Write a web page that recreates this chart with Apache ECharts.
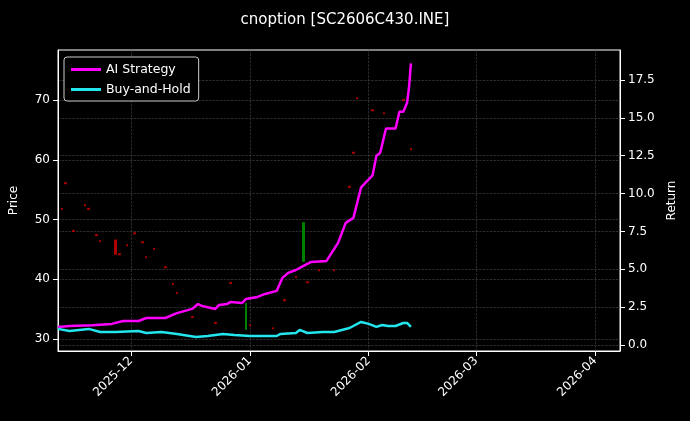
<!DOCTYPE html>
<html><head><meta charset="utf-8">
<script src="https://cdn.jsdelivr.net/npm/echarts@6/dist/echarts.min.js"></script>
<style>html,body{margin:0;background:#000}#c{width:690px;height:421px}</style>
</head><body><div id="c"></div>
<script>
const aiDates = ['2025-11-12','2025-11-15','2025-11-21','2025-11-26','2025-11-29','2025-12-03','2025-12-05','2025-12-10','2025-12-13','2025-12-17','2025-12-18 12:00','2025-12-19 12:00','2025-12-23','2025-12-24','2025-12-26','2025-12-27','2025-12-30','2025-12-31','2026-01-03','2026-01-05','2026-01-08','2026-01-09 12:00','2026-01-11','2026-01-13','2026-01-15','2026-01-17','2026-01-21','2026-01-24','2026-01-26','2026-01-28','2026-01-30','2026-02-02','2026-02-03','2026-02-04','2026-02-05 12:00','2026-02-08','2026-02-09','2026-02-10','2026-02-11','2026-02-11 12:00','2026-02-12'];
const aiValues = [1.19,1.25,1.3,1.39,1.58,1.58,1.78,1.78,2.1,2.38,2.7,2.58,2.38,2.64,2.7,2.84,2.77,3.04,3.17,3.37,3.57,4.43,4.76,4.95,5.22,5.48,5.55,6.74,8.06,8.39,10.4,11.2,12.5,12.7,14.3,14.3,15.4,15.4,16.0,17.0,18.6];
const bhDates = ['2025-11-12','2025-11-15','2025-11-20','2025-11-23','2025-11-27','2025-12-03','2025-12-05','2025-12-09','2025-12-13','2025-12-18','2025-12-21','2025-12-25','2025-12-28','2026-01-01','2026-01-08','2026-01-09','2026-01-13','2026-01-14','2026-01-16','2026-01-20','2026-01-23','2026-01-27','2026-01-30','2026-02-01','2026-02-03','2026-02-04 12:00','2026-02-06','2026-02-08','2026-02-10','2026-02-11','2026-02-12'];
const bhValues = [1.06,0.92,1.06,0.86,0.86,0.92,0.79,0.86,0.73,0.53,0.59,0.73,0.66,0.59,0.59,0.73,0.79,0.99,0.79,0.86,0.86,1.12,1.52,1.39,1.19,1.32,1.25,1.25,1.45,1.45,1.19];
// [date, open, close, low, high]
const candles = [
 ['2025-11-13',51.9,51.7,51.7,51.9],['2025-11-14',56.2,56.0,56.0,56.2],['2025-11-16',48.2,48.0,48.0,48.2],
 ['2025-11-19',52.5,52.3,52.3,52.5],['2025-11-20',51.9,51.7,51.7,51.9],['2025-11-22',47.5,47.3,47.3,47.5],
 ['2025-11-23',46.5,46.3,46.3,46.5],['2025-11-27',46.6,44.2,44.2,46.6],['2025-11-28',44.3,44.1,44.1,44.3],
 ['2025-11-30',45.8,45.6,45.6,45.8],['2025-12-02',47.8,47.6,47.6,47.8],['2025-12-04',46.3,46.1,46.1,46.3],
 ['2025-12-05',43.8,43.6,43.6,43.8],['2025-12-07',45.2,45.0,45.0,45.2],['2025-12-10',42.1,41.9,41.9,42.1],
 ['2025-12-12',39.3,39.1,39.1,39.3],['2025-12-13',37.8,37.6,37.6,37.8],['2025-12-17',33.8,33.6,33.6,33.8],
 ['2025-12-23',32.8,32.6,32.6,32.8],['2025-12-27',39.5,39.3,39.3,39.5],['2025-12-31',31.6,36.0,31.6,36.0],
 ['2026-01-01',32.4,32.2,32.2,32.4],['2026-01-07',31.9,31.7,31.7,31.9],['2026-01-10',36.6,36.4,36.4,36.6],
 ['2026-01-13',40.5,40.3,40.3,40.5],['2026-01-15',43.0,49.5,43.0,49.5],['2026-01-16',39.6,39.4,39.4,39.6],
 ['2026-01-19',41.6,41.4,41.4,41.6],['2026-01-23',41.6,41.4,41.4,41.6],['2026-01-27',55.6,55.4,55.4,55.6],
 ['2026-01-28',61.3,61.1,61.1,61.3],['2026-01-29',70.4,70.2,70.2,70.4],['2026-02-02',68.4,68.2,68.2,68.4],
 ['2026-02-05',67.9,67.7,67.7,67.9],['2026-02-10',70.1,69.9,69.9,70.1],['2026-02-12',61.9,61.7,61.7,61.9]
];
const monthTicks = ['2025-12-01','2026-01-01','2026-02-01','2026-03-01','2026-04-01'];
const priceTicks = [30,40,50,60,70];
const returnTicks = [0,2.5,5,7.5,10,12.5,15,17.5];

const ts = s => new Date(s.replace(' ','T')+'Z').getTime();
const mt = monthTicks.map(ts);
const grid = {type:'dashed', color:'#4a4a4a', width:0.6};
const font = {color:'#fff', fontSize:12, fontFamily:'DejaVu Sans'};
const chart = echarts.init(document.getElementById('c'));
chart.setOption({
 backgroundColor:'#000', animation:false,
 title:{text:'cnoption [SC2606C430.INE]', left:'center', top:8, textStyle:{color:'#fff', fontSize:15, fontWeight:'normal', fontFamily:'DejaVu Sans'}},
 legend:{left:64, top:57, orient:'vertical', itemGap:7, itemWidth:30, itemHeight:3, backgroundColor:'#000', borderColor:'#ccc', borderWidth:1, borderRadius:3, padding:[6,8,5,7],
   textStyle:Object.assign({fontSize:12.5}, {color:'#fff', fontFamily:'DejaVu Sans'}), data:[{name:'AI Strategy',icon:'rect'},{name:'Buy-and-Hold',icon:'rect'}]},
 grid:{left:57, right:70, top:50, bottom:70, show:true, borderColor:'#fff', borderWidth:1},
 xAxis:{type:'value', min:ts('2025-11-12'), max:ts('2026-04-07 12:00'),
   axisLine:{onZero:false, lineStyle:{color:'#fff'}},
   axisTick:{customValues:mt, lineStyle:{color:'#fff'}},
   axisLabel:Object.assign({customValues:mt, rotate:45, formatter:v=>{const d=new Date(v);return d.getUTCFullYear()+'-'+String(d.getUTCMonth()+1).padStart(2,'0');}}, font),
   splitLine:{show:true, lineStyle:grid}},
 yAxis:[
  {type:'value', min:28, max:78.4, name:'Price', nameLocation:'middle', nameGap:38, nameTextStyle:font,
   axisLine:{show:true, onZero:false, lineStyle:{color:'#fff'}}, axisTick:{show:true, customValues:priceTicks, lineStyle:{color:'#fff'}},
   axisLabel:Object.assign({customValues:priceTicks}, font), splitLine:{show:true, lineStyle:grid}},
  {type:'value', min:-0.4, max:19.48, name:'Return', nameLocation:'middle', nameGap:46, position:'right', nameTextStyle:font,
   axisLine:{show:true, onZero:false, lineStyle:{color:'#fff'}}, axisTick:{show:true, customValues:returnTicks, lineStyle:{color:'#fff'}},
   axisLabel:Object.assign({customValues:returnTicks, formatter:v=>v.toFixed(1)}, font), splitLine:{show:true, lineStyle:grid}}
 ],
 series:[
  {type:'candlestick', yAxisIndex:0, barWidth:2, data:candles.map(c=>[ts(c[0]),c[1],c[2],c[3],c[4]]),
   itemStyle:{color:'#008000', color0:'#b00000', borderColor:'#008000', borderColor0:'#b00000', borderWidth:1}},
  {name:'AI Strategy', type:'line', yAxisIndex:1, symbol:'none', color:'#ff00ff', lineStyle:{width:2.5}, data:aiDates.map((d,i)=>[ts(d),aiValues[i]])},
  {name:'Buy-and-Hold', type:'line', yAxisIndex:1, symbol:'none', color:'#22e5ee', lineStyle:{width:2.5}, data:bhDates.map((d,i)=>[ts(d),bhValues[i]])}
 ]
});
</script></body></html>
